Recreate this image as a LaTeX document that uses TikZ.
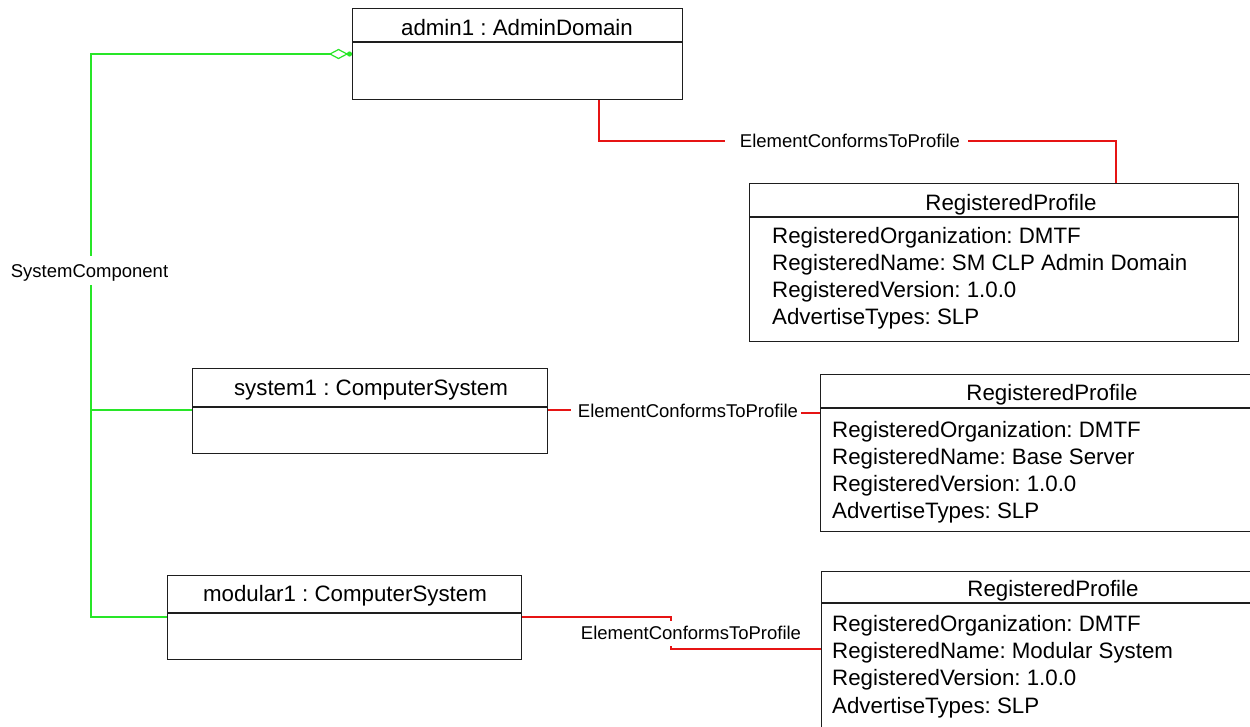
\documentclass[tikz,border=0pt]{standalone}
\usepackage{fontspec}
\setmainfont{Liberation Sans}
\frenchspacing
\definecolor{gcol}{RGB}{40,230,40}
\definecolor{rcol}{RGB}{230,20,20}
\definecolor{bcol}{RGB}{30,30,30}
\begin{document}
\begin{tikzpicture}[x=1pt,y=-1pt,
  box/.style={draw=bcol, line width=1.3pt, fill=white, inner sep=0pt, anchor=north west},
  divl/.style={draw=bcol, line width=1.3pt},
  hdr/.style={font=\fontsize{22.3}{26}\selectfont, anchor=base, inner sep=0pt},
  attr/.style={font=\fontsize{22.3}{26}\selectfont, anchor=base west, inner sep=0pt},
  lbl/.style={font=\fontsize{18.5}{22}\selectfont, anchor=base, inner sep=0pt},
  grn/.style={draw=gcol, line width=1.2pt},
  assoc/.style={draw=rcol, line width=1.3pt}]
\useasboundingbox (0,0) rectangle (1250,726);
\clip (0,0) rectangle (1250,726);

% ---- class boxes ----
\node[box, minimum width=330pt, minimum height=91pt] (admin) at (352,8) {};
\draw[divl] (admin.west |- 0,42) -- (admin.east |- 0,42);
\node[hdr] (adminH) at (517,35) {admin1 : AdminDomain};

\node[box, minimum width=355pt, minimum height=85pt] (system) at (192,368) {};
\draw[divl] (system.west |- 0,407) -- (system.east |- 0,407);
\node[hdr] (systemH) at (371,395) {system1 : ComputerSystem};

\node[box, minimum width=354pt, minimum height=84pt] (modular) at (167,575) {};
\draw[divl] (modular.west |- 0,613) -- (modular.east |- 0,613);
\node[hdr] (modularH) at (345,601) {modular1 : ComputerSystem};

% ---- profile boxes ----
\node[box, minimum width=489pt, minimum height=158pt] (prof1) at (749,183) {};
\draw[divl] (prof1.west |- 0,217) -- (prof1.east |- 0,217);
\node[hdr] (prof1H) at (1011,210) {RegisteredProfile};
\node[attr] (p1a) at (772,243) {RegisteredOrganization: DMTF};
\node[attr] (p1b) at (772,270) {RegisteredName: SM CLP Admin Domain};
\node[attr] (p1c) at (772,297) {RegisteredVersion: 1.0.0};
\node[attr] (p1d) at (772,324) {AdvertiseTypes: SLP};

\node[box, minimum width=480pt, minimum height=157pt] (prof2) at (820,374) {};
\draw[divl] (prof2.west |- 0,408) -- (prof2.east |- 0,408);
\node[hdr] (prof2H) at (1052,400) {RegisteredProfile};
\node[attr] (p2a) at (832,437) {RegisteredOrganization: DMTF};
\node[attr] (p2b) at (832,464) {RegisteredName: Base Server};
\node[attr] (p2c) at (832,491) {RegisteredVersion: 1.0.0};
\node[attr] (p2d) at (832,518) {AdvertiseTypes: SLP};

\node[box, minimum width=480pt, minimum height=200pt] (prof3) at (821,571) {};
\draw[divl] (prof3.west |- 0,603) -- (prof3.east |- 0,603);
\node[hdr] (prof3H) at (1053,596) {RegisteredProfile};
\node[attr] (p3a) at (832,631) {RegisteredOrganization: DMTF};
\node[attr] (p3b) at (832,658) {RegisteredName: Modular System};
\node[attr] (p3c) at (832,685) {RegisteredVersion: 1.0.0};
\node[attr] (p3d) at (832,713) {AdvertiseTypes: SLP};

% ---- SystemComponent (green) ----
\node[lbl] (sc) at (89.5,277) {SystemComponent};
\coordinate (diaL) at (330,54);
\coordinate (busTop) at (91,54);
\coordinate (gapTop) at (91,256);
\coordinate (gapBot) at (91,285);
\coordinate (j1) at (91,410);
\coordinate (busBot) at (91,617);
\draw[grn] (diaL) -- (busTop) -- (gapTop);
\draw[grn] (gapBot) -- (busBot) -- (modular.west |- busBot);
\draw[grn] (j1) -- (system.west |- j1);
\draw[grn, fill=white] (diaL) -- (338.5,49.5) -- (347,54) -- (338.5,58.5) -- cycle;
\fill[gcol] (349.5,54) circle (2.6pt);

% ---- ElementConformsToProfile (red) ----
\node[lbl] (ectp1) at (850,147) {ElementConformsToProfile};
\coordinate (r1) at (599,141);
\coordinate (r2) at (1116,141);
\draw[assoc] (admin.south -| r1) -- (r1) -- ([xshift=-15pt]ectp1.west |- r1);
\draw[assoc] ([xshift=8pt]ectp1.east |- r2) -- (r2) -- (prof1.north -| r2);

\node[lbl] (ectp2) at (688,417) {ElementConformsToProfile};
\coordinate (s1) at (0,410);
\coordinate (s2) at (0,413);
\draw[assoc] (system.east |- s1) -- ([xshift=-7pt]ectp2.west |- s1);
\draw[assoc] ([xshift=3pt]ectp2.east |- s2) -- (prof2.west |- s2);

\node[lbl] (ectp3) at (691,639) {ElementConformsToProfile};
\coordinate (m1) at (671,617);
\coordinate (m2) at (671,621);
\coordinate (m3) at (671,646);
\coordinate (m4) at (671,649);
\draw[assoc] (modular.east |- m1) -- (m1) -- (m2);
\draw[assoc] (m3) -- (m4) -- (prof3.west |- m4);
\end{tikzpicture}
\end{document}
